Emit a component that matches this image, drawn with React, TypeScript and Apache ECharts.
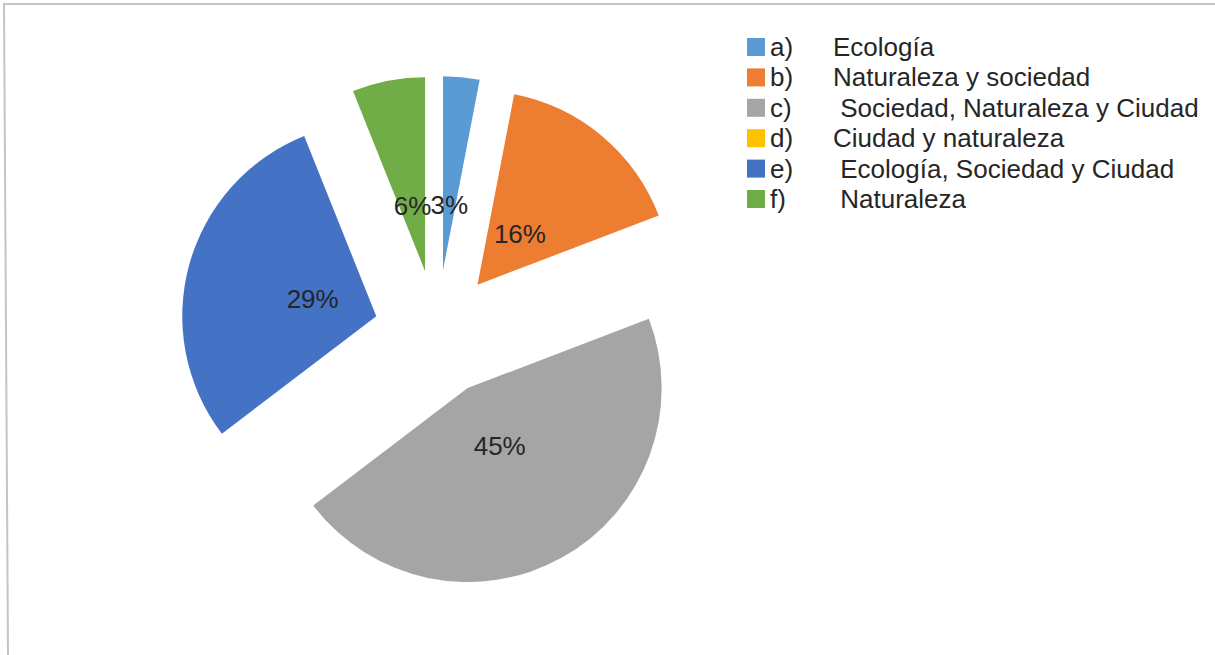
import React, { useEffect, useRef } from "react";
import * as echarts from "echarts";

const letters = ["a)", "b)", "c)", "d)", "e)", "f)"];
const descriptions = [
  "Ecología",
  "Naturaleza y sociedad",
  " Sociedad, Naturaleza y Ciudad",
  "Ciudad y naturaleza",
  " Ecología, Sociedad y Ciudad",
  " Naturaleza",
];
const percents = [3, 16, 45, 0, 29, 6];
const colors = ["#5B9BD5", "#ED7D31", "#A5A5A5", "#FFC000", "#4472C4", "#70AD47"];

const FONT = "'Liberation Sans', Arial, sans-serif";
const TEXT = "#262626";

export default function App() {
  const ref = useRef<HTMLDivElement>(null);
  useEffect(() => {
    if (!ref.current) return;
    const chart = echarts.init(ref.current, undefined, { renderer: "svg" });
    const names = letters.map((l, i) => `${l}\t${descriptions[i]}`);
    const center = [437, 333];
    const offset = 63;
    const labelRadius = 126;
    chart.setOption({
      animation: false,
      backgroundColor: "#ffffff",
      graphic: [
        {
          type: "polyline",
          shape: { points: [[1215, 4], [4, 4], [8, 655]] },
          style: { stroke: "#c4c4c4", lineWidth: 2, fill: null },
          silent: true,
        },
      ],
      legend: {
        orient: "vertical",
        left: 742,
        top: 29,
        itemWidth: 18,
        itemHeight: 18,
        itemGap: 4.4,
        icon: "rect",
        data: names,
        formatter: (name: string) => {
          const [k, v] = name.split("\t");
          return `{k|${k}}{v|${v}}`;
        },
        textStyle: {
          fontFamily: FONT,
          fontSize: 26,
          color: TEXT,
          rich: {
            k: { width: 63, fontFamily: FONT, fontSize: 26, color: TEXT, lineHeight: 24 },
            v: { fontFamily: FONT, fontSize: 26, color: TEXT, lineHeight: 24 },
          },
        },
      },
      series: [
        {
          type: "pie",
          center,
          radius: [0, 194],
          startAngle: 90,
          clockwise: true,
          selectedMode: "multiple",
          selectedOffset: offset,
          silent: true,
          label: { show: false },
          labelLine: { show: false },
          emphasis: { disabled: true },
          data: names.map((n, i) => ({
            name: n,
            value: percents[i],
            selected: true,
            itemStyle: { color: colors[i] },
          })),
        },
        {
          type: "pie",
          center,
          radius: [0, labelRadius],
          startAngle: 90,
          clockwise: true,
          selectedMode: "multiple",
          selectedOffset: offset,
          silent: true,
          avoidLabelOverlap: false,
          emphasis: { disabled: true },
          labelLine: { show: false, length: -labelRadius / 2 + 3, length2: 0 },
          labelLayout: { align: "center", hideOverlap: false },
          label: {
            show: true,
            position: "outside",
            distanceToLabelLine: 0,
            fontFamily: FONT,
            fontSize: 26,
            color: TEXT,
            formatter: (p: any) => (p.value > 0 ? `${p.value}%` : ""),
          },
          data: names.map((n, i) => ({
            name: n,
            value: percents[i],
            selected: true,
            itemStyle: { color: "rgba(0,0,0,0)" },
          })),
        },
      ],
    });
    return () => chart.dispose();
  }, []);
  return (
    <div
      ref={ref}
      style={{ position: "fixed", left: 0, top: 0, width: 1215, height: 655 }}
    />
  );
}
